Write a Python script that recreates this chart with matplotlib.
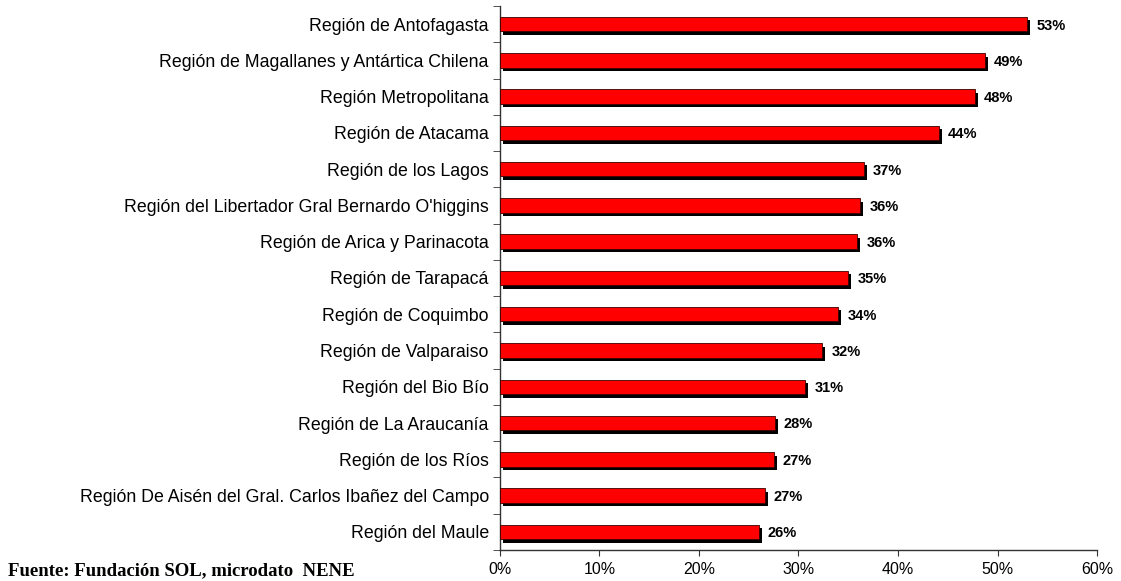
import numpy as np
import matplotlib
matplotlib.use("Agg")
import matplotlib.pyplot as plt
from matplotlib import transforms
from matplotlib.ticker import PercentFormatter, FixedLocator

# datos (de arriba hacia abajo)
regiones = [
    "Región de Antofagasta",
    "Región de Magallanes y Antártica Chilena",
    "Región Metropolitana",
    "Región de Atacama",
    "Región de los Lagos",
    "Región del Libertador Gral Bernardo O'higgins",
    "Región de Arica y Parinacota",
    "Región de Tarapacá",
    "Región de Coquimbo",
    "Región de Valparaiso",
    "Región del Bio Bío",
    "Región de La Araucanía",
    "Región de los Ríos",
    "Región De Aisén del Gral. Carlos Ibañez del Campo",
    "Región del Maule",
]
valores = [53.0, 48.7, 47.7, 44.1, 36.6, 36.2, 35.9, 35.0, 34.0, 32.4, 30.7, 27.6, 27.5, 26.6, 26.0]
etiquetas = ["53%", "49%", "48%", "44%", "37%", "36%", "36%", "35%", "34%", "32%",
             "31%", "28%", "27%", "27%", "26%"]
x_ticks = [0, 10, 20, 30, 40, 50, 60]

plt.rcParams['font.family'] = ['Liberation Sans', 'DejaVu Sans']

fig = plt.figure(figsize=(11.21, 5.81), dpi=100)
ax = fig.add_axes([0.446, 0.0534, 0.9786 - 0.446, 0.9897 - 0.0534])

y = np.arange(len(regiones))
alto = 0.40

# sombra negra desplazada
sombra = transforms.offset_copy(ax.transData, fig=fig, x=3, y=-3.5, units='dots')
ax.barh(y, valores, height=alto, color='black', transform=sombra, zorder=2)
ax.barh(y, valores, height=alto, color='#ff0000', edgecolor='#3a0000', linewidth=0.6, zorder=3)

for yi, v, t in zip(y, valores, etiquetas):
    ax.annotate(t, xy=(v, yi), xytext=(6.5, -1), textcoords='offset points',
                ha='left', va='center', fontsize=10.5, fontweight='bold', color='black')

ax.set_xlim(0, 60)
ax.set_ylim(len(regiones) - 0.5, -0.5)

ax.set_yticks(y)
ax.set_yticklabels(regiones, fontsize=12.8)
ax.yaxis.set_minor_locator(FixedLocator(np.arange(-0.5, len(regiones), 1.0)))
ax.tick_params(axis='y', which='major', length=0, pad=8)
ax.tick_params(axis='y', which='minor', length=5, direction='out', color='#333333')

ax.set_xticks(x_ticks)
ax.xaxis.set_major_formatter(PercentFormatter(decimals=0))
ax.tick_params(axis='x', length=4, direction='out', labelsize=11.5, pad=5, color='#333333')

for s in ['top', 'right']:
    ax.spines[s].set_visible(False)
for s in ['left', 'bottom']:
    ax.spines[s].set_color('#333333')
    ax.spines[s].set_linewidth(1.0)

fig.text(0.007, 0.003, "Fuente: Fundación SOL, microdato  NENE", family=['Liberation Serif'],
         fontsize=13.5, fontweight='bold', ha='left', va='bottom')

fig.savefig("out.png", dpi=100)
